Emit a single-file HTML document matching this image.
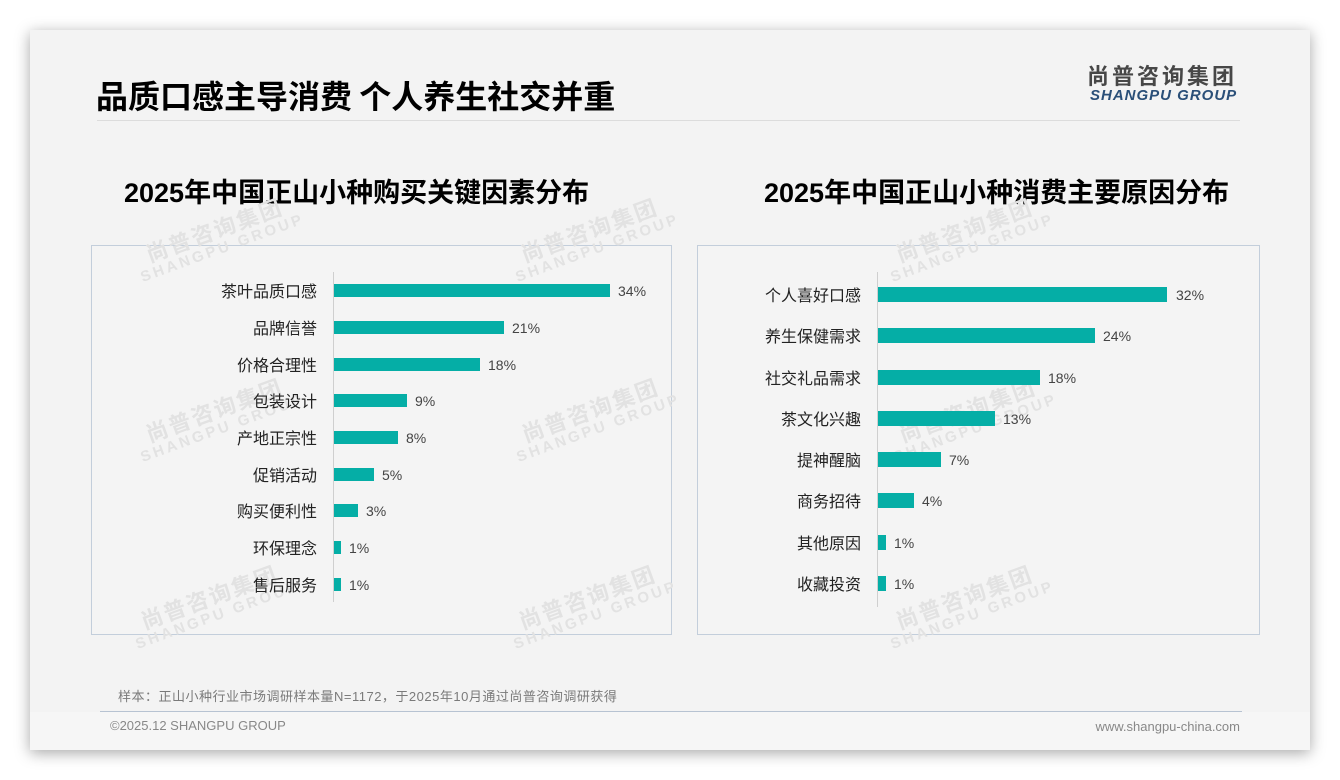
<!DOCTYPE html>
<html><head><meta charset="utf-8">
<style>
*{margin:0;padding:0;box-sizing:border-box}
html,body{width:1340px;height:780px;background:#fff;overflow:hidden}
body{position:relative;font-family:"Liberation Sans","Noto Sans CJK SC",sans-serif}
.card{position:absolute;left:30px;top:30px;width:1280px;height:720px;background:#f3f3f3;box-shadow:0 3px 14px rgba(0,0,0,0.35)}
.foot{position:absolute;left:30px;top:712px;width:1280px;height:38px;background:#f6f6f6}
.abs{position:absolute;white-space:nowrap}
.title{left:96px;top:78px;font-size:32px;line-height:34px;font-weight:bold;color:#000;font-family:"Noto Sans CJK SC",sans-serif}
.hline{position:absolute;left:97px;top:120px;width:1143px;height:1px;background:#dcdcdc}
.logo1{left:1087px;top:62px;font-size:22px;line-height:26px;font-weight:bold;color:#474747;letter-spacing:3px;font-family:"Noto Sans CJK SC",sans-serif}
.logo2{left:1090px;top:87px;font-size:15px;line-height:18px;font-weight:bold;font-style:italic;color:#2a4f78;letter-spacing:1px}
.ct{top:174px;font-size:27px;line-height:34px;font-weight:bold;color:#000;font-family:"Liberation Sans","Noto Sans CJK SC",sans-serif}
.ct span{font-family:"Noto Sans CJK SC",sans-serif}
.panel{position:absolute;border:1px solid #c3cedb;background:#f4f4f4}
.wm{position:absolute;width:170px;text-align:center;transform:rotate(-20deg);color:#e2e2e2;font-weight:bold;white-space:nowrap}
.wm .a{font-size:22px;line-height:24px;letter-spacing:2px;font-family:"Noto Sans CJK SC",sans-serif}
.wm .b{font-size:15px;line-height:17px;letter-spacing:3px}
.axis{position:absolute;width:1px;background:#cfcfcf}
.bar{position:absolute;background:#05aea6}
.lab{position:absolute;text-align:right;font-size:16px;line-height:20px;color:#222;font-family:"Noto Sans CJK SC",sans-serif;white-space:nowrap}
.val{position:absolute;font-size:14px;line-height:16px;color:#444;white-space:nowrap}
.note{left:118px;top:689px;font-size:13px;line-height:16px;color:#7a7a7a;letter-spacing:0.5px;font-family:"Liberation Sans","Noto Sans CJK SC",sans-serif}
.fline{position:absolute;left:100px;top:711px;width:1142px;height:1px;background:#b7c3d2}
.copy{left:110px;top:718px;font-size:13px;line-height:16px;color:#888}
.web{right:100px;top:719px;font-size:13px;line-height:16px;color:#888}
</style></head><body>
<div class="card"></div>
<div class="foot"></div>

<div class="abs title">品质口感主导消费 个人养生社交并重</div>
<div class="hline"></div>
<div class="abs logo1">尚普咨询集团</div>
<div class="abs logo2">SHANGPU GROUP</div>

<div class="abs ct" style="left:124px">2025<span>年中国正山小种购买关键因素分布</span></div>
<div class="abs ct" style="left:764px">2025<span>年中国正山小种消费主要原因分布</span></div>

<div class="panel" style="left:91px;top:245px;width:581px;height:390px"></div>
<div class="panel" style="left:697px;top:245px;width:563px;height:390px"></div>

<!-- watermarks -->
<div class="wm" style="left:132px;top:217px"><div class="a">尚普咨询集团</div><div class="b">SHANGPU GROUP</div></div>
<div class="wm" style="left:507px;top:217px"><div class="a">尚普咨询集团</div><div class="b">SHANGPU GROUP</div></div>
<div class="wm" style="left:882px;top:217px"><div class="a">尚普咨询集团</div><div class="b">SHANGPU GROUP</div></div>
<div class="wm" style="left:132px;top:397px"><div class="a">尚普咨询集团</div><div class="b">SHANGPU GROUP</div></div>
<div class="wm" style="left:508px;top:397px"><div class="a">尚普咨询集团</div><div class="b">SHANGPU GROUP</div></div>
<div class="wm" style="left:885px;top:397px"><div class="a">尚普咨询集团</div><div class="b">SHANGPU GROUP</div></div>
<div class="wm" style="left:127px;top:584px"><div class="a">尚普咨询集团</div><div class="b">SHANGPU GROUP</div></div>
<div class="wm" style="left:505px;top:584px"><div class="a">尚普咨询集团</div><div class="b">SHANGPU GROUP</div></div>
<div class="wm" style="left:882px;top:584px"><div class="a">尚普咨询集团</div><div class="b">SHANGPU GROUP</div></div>

<!-- left chart -->
<div class="axis" style="left:333px;top:272px;height:330px"></div>
<div class="lab" style="right:1023px;top:280px">茶叶品质口感</div><div class="bar" style="left:334px;top:284px;width:276px;height:13px"></div><div class="val" style="left:618px;top:283px">34%</div>
<div class="lab" style="right:1023px;top:317px">品牌信誉</div><div class="bar" style="left:334px;top:321px;width:170px;height:13px"></div><div class="val" style="left:512px;top:320px">21%</div>
<div class="lab" style="right:1023px;top:354px">价格合理性</div><div class="bar" style="left:334px;top:358px;width:146px;height:13px"></div><div class="val" style="left:488px;top:357px">18%</div>
<div class="lab" style="right:1023px;top:390px">包装设计</div><div class="bar" style="left:334px;top:394px;width:73px;height:13px"></div><div class="val" style="left:415px;top:393px">9%</div>
<div class="lab" style="right:1023px;top:427px">产地正宗性</div><div class="bar" style="left:334px;top:431px;width:64px;height:13px"></div><div class="val" style="left:406px;top:430px">8%</div>
<div class="lab" style="right:1023px;top:464px">促销活动</div><div class="bar" style="left:334px;top:468px;width:40px;height:13px"></div><div class="val" style="left:382px;top:467px">5%</div>
<div class="lab" style="right:1023px;top:500px">购买便利性</div><div class="bar" style="left:334px;top:504px;width:24px;height:13px"></div><div class="val" style="left:366px;top:503px">3%</div>
<div class="lab" style="right:1023px;top:537px">环保理念</div><div class="bar" style="left:334px;top:541px;width:7px;height:13px"></div><div class="val" style="left:349px;top:540px">1%</div>
<div class="lab" style="right:1023px;top:574px">售后服务</div><div class="bar" style="left:334px;top:578px;width:7px;height:13px"></div><div class="val" style="left:349px;top:577px">1%</div>

<!-- right chart -->
<div class="axis" style="left:877px;top:272px;height:335px"></div>
<div class="lab" style="right:479px;top:284px">个人喜好口感</div><div class="bar" style="left:878px;top:287px;width:289px;height:15px"></div><div class="val" style="left:1176px;top:287px">32%</div>
<div class="lab" style="right:479px;top:325px">养生保健需求</div><div class="bar" style="left:878px;top:328px;width:217px;height:15px"></div><div class="val" style="left:1103px;top:328px">24%</div>
<div class="lab" style="right:479px;top:367px">社交礼品需求</div><div class="bar" style="left:878px;top:370px;width:162px;height:15px"></div><div class="val" style="left:1048px;top:370px">18%</div>
<div class="lab" style="right:479px;top:408px">茶文化兴趣</div><div class="bar" style="left:878px;top:411px;width:117px;height:15px"></div><div class="val" style="left:1003px;top:411px">13%</div>
<div class="lab" style="right:479px;top:449px">提神醒脑</div><div class="bar" style="left:878px;top:452px;width:63px;height:15px"></div><div class="val" style="left:949px;top:452px">7%</div>
<div class="lab" style="right:479px;top:490px">商务招待</div><div class="bar" style="left:878px;top:493px;width:36px;height:15px"></div><div class="val" style="left:922px;top:493px">4%</div>
<div class="lab" style="right:479px;top:532px">其他原因</div><div class="bar" style="left:878px;top:535px;width:8px;height:15px"></div><div class="val" style="left:894px;top:535px">1%</div>
<div class="lab" style="right:479px;top:573px">收藏投资</div><div class="bar" style="left:878px;top:576px;width:8px;height:15px"></div><div class="val" style="left:894px;top:576px">1%</div>

<div class="abs note">样本：正山小种行业市场调研样本量N=1172，于2025年10月通过尚普咨询调研获得</div>
<div class="fline"></div>
<div class="abs copy">©2025.12 SHANGPU GROUP</div>
<div class="abs web">www.shangpu-china.com</div>
</body></html>
